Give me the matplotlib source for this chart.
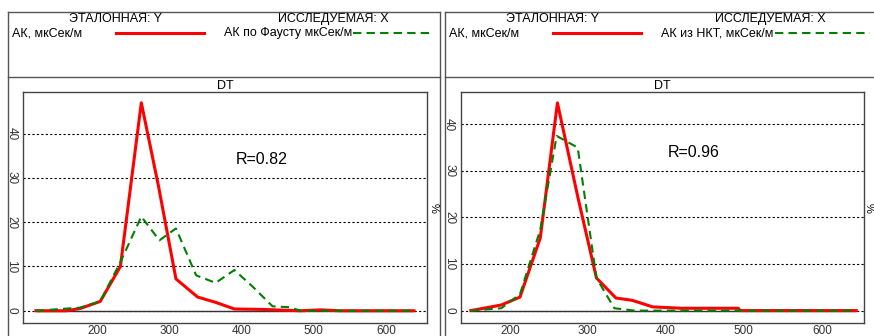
import matplotlib
matplotlib.use("Agg")
import matplotlib.pyplot as plt
from matplotlib.lines import Line2D

plt.rcParams['font.family'] = ['Liberation Sans', 'DejaVu Sans']

# left panel: AK vs AK po Faustu
dt_ref_l = [115, 157, 176, 204, 232, 261, 285, 309, 339, 364, 390, 429, 482, 510, 535, 639]
ak_ref_l = [0, 0, 0.5, 2.1, 10, 47, 28, 7.2, 3.1, 1.9, 0.4, 0.3, 0, 0.2, 0, 0]
dt_tst_l = [115, 176, 204, 232, 261, 286, 309, 337, 364, 390, 415, 443, 466, 482, 639]
ak_tst_l = [0, 0.7, 2.1, 11, 21.3, 15.9, 18.6, 8, 6.3, 9.2, 5.5, 1, 0.8, 0, 0]

# right panel: AK vs AK iz NKT
dt_ref_r = [150, 189, 213, 239, 261, 287, 311, 336, 357, 383, 420, 493, 495, 644]
ak_ref_r = [0, 1.2, 2.9, 15.6, 44.6, 24.5, 7, 2.7, 2.2, 0.8, 0.5, 0.5, 0, 0]
dt_tst_r = [150, 189, 213, 239, 260, 287, 311, 334, 360, 644]
ak_tst_r = [0, 0.5, 3.5, 17.4, 37.5, 35, 7, 0.5, 0, 0]

panels = [
    dict(x0=8, x1=440, ax=(23, 427), xlim=(97, 657), ylim=(-2.7, 49.5),
         ref=(dt_ref_l, ak_ref_l), tst=(dt_tst_l, ak_tst_l),
         tst_name="АК по Фаусту мкСек/м", r="R=0.82", rpos=(236, 159),
         leg_red=(116, 204), leg_grn=(353, 431), tst_x=224,
         hdr=(116, 333), pct=434),
    dict(x0=445, x1=880, ax=(460.7, 864), xlim=(137, 654), ylim=(-2.6, 47),
         ref=(dt_ref_r, ak_ref_r), tst=(dt_tst_r, ak_tst_r),
         tst_name="АК из НКТ, мкСек/м", r="R=0.96", rpos=(668, 153),
         leg_red=(553, 641), leg_grn=(775, 870), tst_x=661,
         hdr=(553, 770), pct=869),
]

W, H = 874, 336
fig = plt.figure(figsize=(W / 100, H / 100), dpi=100)


def fx(px):
    return px / W


def fy(py):
    return 1 - py / H


frame_col = "#555555"
for p in panels:
    # outer frame + header separator
    fig.add_artist(Line2D([fx(p["x0"]), fx(p["x1"])], [fy(12), fy(12)], color=frame_col, lw=1))
    fig.add_artist(Line2D([fx(p["x0"]), fx(p["x1"])], [fy(77), fy(77)], color=frame_col, lw=1))
    fig.add_artist(Line2D([fx(p["x0"]), fx(p["x0"])], [fy(12), fy(340)], color=frame_col, lw=1))
    if p["x1"] < W:
        fig.add_artist(Line2D([fx(p["x1"]), fx(p["x1"])], [fy(12), fy(340)], color=frame_col, lw=1))

    # header
    fig.text(fx(p["hdr"][0]), fy(19), "ЭТАЛОННАЯ: Y", ha="center", va="center", fontsize=9)
    fig.text(fx(p["hdr"][1]), fy(19), "ИССЛЕДУЕМАЯ: X", ha="center", va="center", fontsize=9)
    fig.text(fx(p["x0"] + 4), fy(33), "АК, мкСек/м", ha="left", va="center", fontsize=9)
    fig.add_artist(Line2D([fx(p["leg_red"][0]), fx(p["leg_red"][1])], [fy(33), fy(33)],
                          color="#ff0000", lw=2.2))
    fig.text(fx(p["tst_x"]), fy(33), p["tst_name"], ha="left", va="center", fontsize=9)
    fig.add_artist(Line2D([fx(p["leg_grn"][0]), fx(p["leg_grn"][1])], [fy(33), fy(33)],
                          color="#008000", lw=1.5, dashes=(4, 2.5)))

    a0, a1 = p["ax"]
    ax = fig.add_axes([fx(a0), fy(322.7), fx(a1 - a0), (322.7 - 91.7) / H])
    ax.set_xlim(*p["xlim"])
    ax.set_ylim(*p["ylim"])
    for s in ax.spines.values():
        s.set_color("#444444")
        s.set_linewidth(1)
    ax.set_yticks([0, 10, 20, 30, 40])
    ax.set_xticks([200, 300, 400, 500, 600])
    ax.tick_params(axis="x", length=0, labelsize=8.5, colors="#333333", pad=2)
    ax.tick_params(axis="y", length=0, labelsize=8.5, colors="#333333", pad=4)
    for t in ax.get_yticklabels():
        t.set_rotation(270)
        t.set_va("center")
    ax.grid(axis="y", color="black", linestyle=(0, (2, 2)), lw=0.8)
    ax.set_title("DT", fontsize=9, pad=2)

    xs, ys = p["ref"]
    ax.hlines(0, xs[0], xs[-1], color="#333333", lw=1, zorder=2)
    ax.plot(xs, ys, color="#ff0000", lw=2.2, zorder=3)
    xt, yt = p["tst"]
    ax.plot(xt, yt, color="#008000", lw=1.5, dashes=(4, 2.5), zorder=4)

    fig.text(fx(p["rpos"][0]), fy(p["rpos"][1]), p["r"], ha="left", va="center", fontsize=11.5)
    fig.text(fx(p["pct"]), fy(208), "%", ha="center", va="center", fontsize=8, rotation=270)

fig.savefig("out.png", dpi=100)
